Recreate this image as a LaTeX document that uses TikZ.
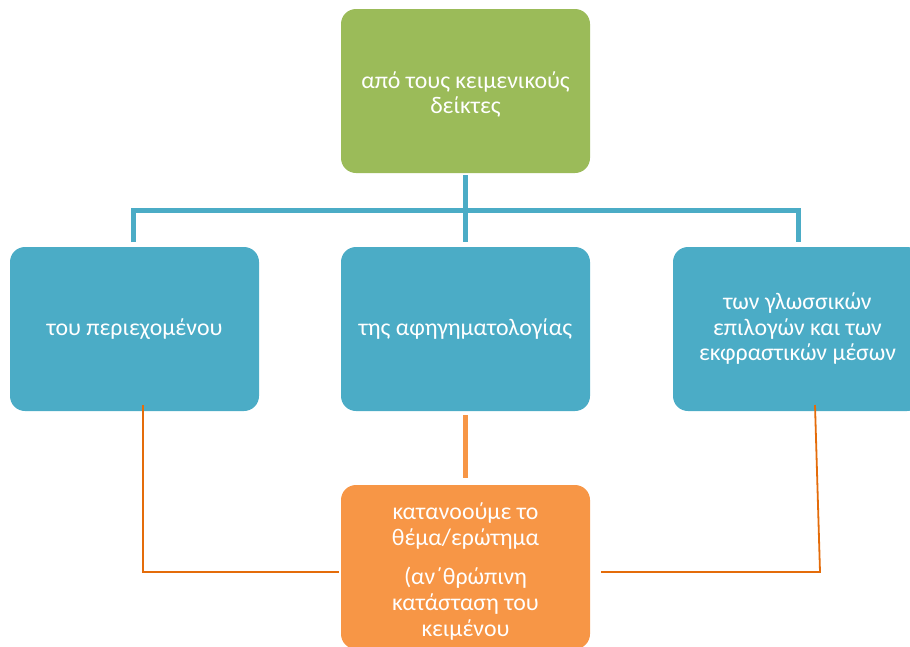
\documentclass[tikz,border=0pt]{standalone}
\usepackage{fontspec}
\setmainfont{Carlito}
\definecolor{cgreen}{HTML}{9BBB59}
\definecolor{cblue}{HTML}{4BACC6}
\definecolor{corange}{HTML}{F79646}
\definecolor{cdark}{HTML}{E46C0A}
\tikzset{
  boxstyle/.style={rounded corners=15pt, minimum width=249pt, minimum height=164pt,
    inner sep=0pt, text=white, align=center, font=\fontsize{23.8}{25.5}\selectfont},
  boxtext/.style={inner sep=0pt, text=white, align=center, font=\fontsize{23.8}{25.5}\selectfont},
  blueline/.style={draw=cblue, line width=5pt},
  thickorange/.style={draw=corange, line width=5pt},
  thinorange/.style={draw=cdark, line width=1.8pt},
}
\begin{document}
\begin{tikzpicture}[x=1pt,y=-1pt]
\useasboundingbox (0,0) rectangle (910,646);
\clip (0,0) rectangle (910,646);
\node[boxstyle, fill=cgreen, label={[boxtext, yshift=-3.5pt]center:{από τους κειμενικούς\\δείκτες}}] (top) at (465.5,91) {};
\node[boxstyle, fill=cblue] (left) at (134.5,329) {του περιεχομένου};
\node[boxstyle, fill=cblue] (mid) at (465.5,329) {της αφηγηματολογίας};
\node[boxstyle, fill=cblue] (right) at (797.5,329) {των γλωσσικών\\επιλογών και των\\εκφραστικών μέσων};
\node[boxstyle, fill=corange, label={[boxtext, font=\fontsize{23.8}{26}\selectfont, yshift=-5pt]center:{κατανοούμε το\\θέμα/ερώτημα\\[13pt](αν΄θρώπινη\\κατάσταση του\\κειμένου}}] (bot) at (465.5,567) {};
% blue tree connectors
\draw[blueline] ([yshift=-2pt]top.south) -- ([yshift=5pt]mid.north);
\draw[blueline] (133,242) -- (133,210) -- (798,210) -- (798,242);
% orange connectors
\draw[thickorange] ([yshift=-4pt]mid.south) -- ([yshift=7pt]bot.north);
\coordinate (lt) at (143,405);
\coordinate (lj) at (143,572);
\coordinate (rt) at (815,405);
\coordinate (rj) at (820,572);
\draw[thinorange] (lt) -- (lj) -- (339,572);
\draw[thinorange] (rt) -- (rj) -- (601,572);
\end{tikzpicture}
\end{document}
